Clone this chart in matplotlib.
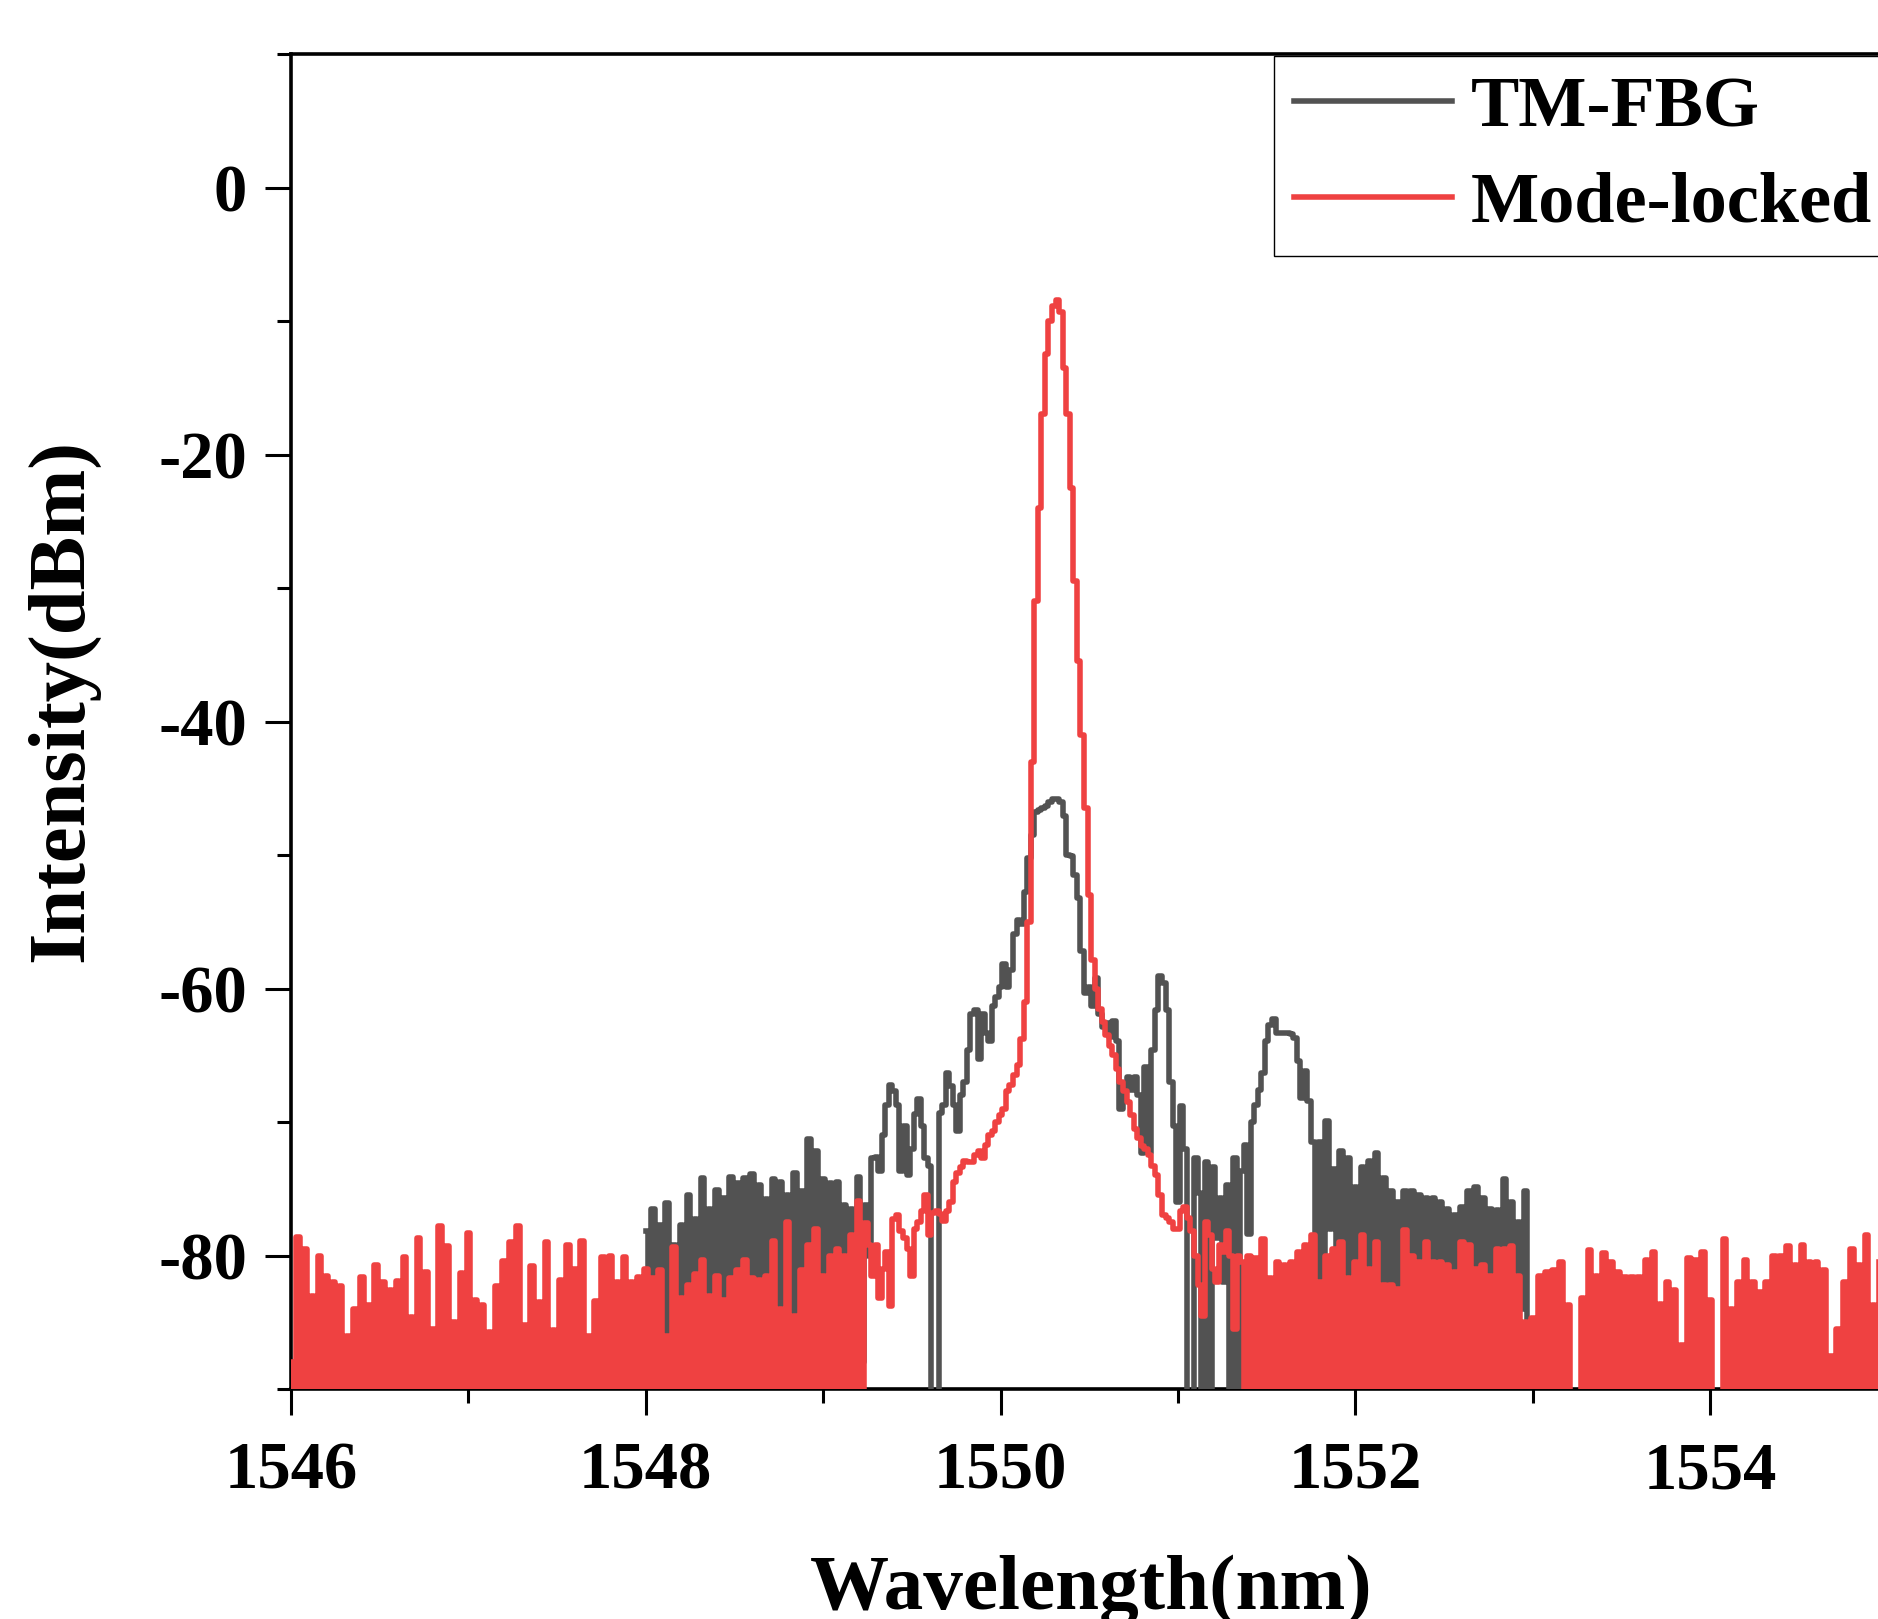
import numpy as np
import matplotlib
matplotlib.use("Agg")
from matplotlib import pyplot as plt
from matplotlib.ticker import MultipleLocator

plt.rcParams['font.family'] = ['Liberation Serif', 'DejaVu Serif']
plt.rcParams['font.weight'] = 'bold'
plt.rcParams['axes.unicode_minus'] = False

# OSA spectra, 0.02 nm sampling; values below -90 dBm are off the bottom of the plot
step = 0.02

# mode-locked output, 1546.00 ... 1555.00 nm
red_start = 1546.0
red_dbm = [
    -88, -95, -78.6, -97, -79.5, -93, -83, -96, -80, -94,
    -81.5, -98, -82, -95, -82.3, -93, -86, -97, -84, -95,
    -81.6, -94, -83.7, -96, -80.7, -93, -82, -98, -82.6, -95,
    -81.9, -97, -80.1, -94, -84.6, -96, -78.7, -93, -81.2, -95,
    -85.5, -98, -77.8, -94, -79.3, -96, -85, -93, -81.3, -97,
    -78.3, -95, -83.3, -94, -83.7, -98, -85.7, -93, -82.3, -96,
    -80.4, -94, -79, -97, -77.8, -95, -85.2, -93, -80.8, -96,
    -83.5, -94, -79, -98, -85.6, -95, -81.8, -93, -79.2, -97,
    -81, -94, -78.9, -96, -86, -95, -83.4, -93, -80.1, -98,
    -80, -94, -82, -96, -80.1, -95, -82, -93, -81.6, -97,
    -81, -95, -81.7, -94, -81.1, -97, -86, -93, -79.4, -96,      # 1548.0
    -83.2, -94, -82.2, -98, -81.4, -95, -80.3, -93, -83, -96,
    -81.5, -94, -83.3, -97, -81.7, -95, -81.1, -93, -80.3, -96,
    -81.7, -94, -81.8, -98, -81.5, -95, -78.9, -93, -84, -96,
    -77.5, -94, -84.5, -97, -81.1, -95, -79.2, -93, -78, -96,
    -81.5, -94, -80, -98, -79.5, -95, -80, -93, -78.5, -96,      # 1549.0
    -75.9, -94, -77.6, -79.2, -81.5, -79.2, -83.2, -81, -79.7, -83.8,
    -77.3, -77, -78.2, -78.7, -79.5, -81.5, -78, -77.5, -76.7, -75.5,
    -78.5, -76.8, -76.7, -76.9, -77.4, -76.7, -76, -74.5, -73.8, -73.4,
    -72.9, -73, -73, -72.5, -72.2, -72.7, -71.7, -71, -70.7, -70,
    -69.5, -69, -67.7, -67.2, -66.5, -65.7, -63.8, -61, -55, -43,  # 1550.0
    -31, -24, -17, -12.5, -10, -8.9, -8.4, -9.3, -13.5, -17,
    -22.5, -29.5, -35.5, -41, -46.5, -53, -57.9, -60, -61.5, -62.5,
    -63.5, -64.3, -65, -66, -67, -67.7, -68.5, -69.5, -70.5, -71.2,
    -71.8, -72, -72.5, -73.3, -74, -75.5, -77, -77.2, -77.5, -78,
    -78, -76.7, -76.4, -77.2, -78.2, -80, -82.2, -84.5, -77.5, -78.5,  # 1551.0
    -81, -82, -79.2, -79.7, -78.2, -80, -85.5, -80, -80.5, -95,
    -80, -97, -80.2, -94, -78.8, -96, -81.7, -93, -80.5, -95,
    -80.7, -98, -80.5, -94, -79.7, -96, -79.2, -93, -78.5, -95,
    -82, -97, -80, -94, -79.5, -96, -79, -93, -81.7, -95,
    -80.5, -98, -78.5, -94, -81, -96, -79, -93, -82.2, -95,      # 1552.0
    -82.2, -97, -82.5, -94, -78.1, -96, -80, -93, -80.5, -95,
    -79, -98, -80.5, -94, -80.5, -96, -80.7, -93, -81.2, -95,
    -79, -97, -79.2, -94, -81, -96, -80.7, -93, -81.5, -95,
    -79.5, -98, -79.5, -94, -79.3, -96, -81.5, -93, -85, -95,
    -84.7, -97, -81.5, -94, -81.2, -96, -81.1, -93, -80.5, -95,  # 1553.0
    -83.7, -98, -92, -94, -83.2, -96, -79.6, -93, -81.5, -95,
    -79.8, -97, -80.5, -94, -81.2, -96, -81.6, -93, -81.6, -95,
    -81.6, -98, -80.3, -94, -79.7, -96, -83.6, -93, -82, -95,
    -82.6, -97, -86.7, -94, -80.2, -96, -80.3, -93, -79.7, -95,
    -83.3, -98, -93, -94, -78.8, -96, -84, -93, -82, -95,        # 1554.0
    -80.3, -97, -82, -94, -82.7, -96, -82, -93, -80, -95,
    -80, -98, -79.3, -94, -80.7, -96, -79.2, -93, -80.5, -95,
    -80.5, -97, -81.1, -94, -87.5, -96, -85.5, -93, -82, -95,
    -79.5, -98, -80.7, -94, -78.5, -96, -83.7, -93, -80.5, -95,
    -81,
]

# TM-FBG reflection, 1548.00 ... 1553.02 nm
gray_start = 1548.0
gray_dbm = [
    -78.2, -95, -76.5, -93, -77.7, -96, -76.1, -94, -79.2, -97,
    -77.7, -93, -75.5, -95, -77.3, -96, -74.2, -94, -76.5, -97,
    -75.1, -95, -75.7, -93, -74.1, -96, -74.6, -94, -74.2, -97,
    -73.9, -95, -74.7, -93, -75.8, -96, -74.3, -94, -74.5, -97,
    -75.5, -95, -73.8, -93, -75.2, -96, -71.3, -94, -72.2, -97,
    -74.3, -95, -74.6, -93, -74.5, -96, -76.2, -94, -76.5, -97,  # 1549.0
    -74.1, -88, -76.2, -80, -72.7, -72.6, -73.7, -71, -68.7, -67.2,
    -67.7, -68.7, -73.7, -70.3, -74, -72, -69.4, -68.3, -70.3, -72.7,
    -73.3, -95, -95, -69.3, -68.7, -66.3, -67.3, -68.7, -70.7, -68,
    -67, -64.6, -61.9, -61.6, -65.3, -61.9, -63.3, -63.9, -61.3, -60.6,
    -59.9, -58.2, -59.9, -58.6, -55.9, -54.9, -55.2, -52.8, -50.2, -48.5,  # 1550.0
    -46.8, -46.6, -46.5, -46.3, -46, -45.8, -45.8, -46, -47.1, -50,
    -50.1, -51.5, -53.2, -57.2, -60.3, -59.9, -61.3, -59.2, -61.9, -62.9,
    -62.6, -63.6, -62.4, -63.9, -69, -67.6, -66.6, -67.6, -66.6, -68,
    -72.3, -65.9, -72.3, -64.6, -61.6, -59.1, -59.6, -61.6, -67, -70.3,
    -76, -68.8, -72, -95, -95, -72.7, -75.3, -95, -73, -95,      # 1551.0
    -73.4, -78.7, -75.7, -82, -74.7, -95, -72.7, -95, -73.7, -71.7,
    -78.4, -70, -68.7, -67.6, -66.3, -63.9, -62.7, -62.3, -63.3, -63.3,
    -63.3, -63.3, -63.4, -63.7, -65.4, -68.2, -66.2, -68.4, -71.5, -82,
    -71.5, -84, -69.9, -78, -73.5, -85, -72.2, -83, -72.7, -86,
    -74.9, -84, -73.4, -92, -72.9, -81, -72.3, -84, -74.2, -86,  # 1552.0
    -75.2, -83, -76, -85, -75.2, -82, -75.2, -87, -75.5, -84,
    -75.7, -84.7, -75.7, -83.5, -76, -86, -76.5, -82, -77, -85,
    -76.4, -86, -75.2, -83, -74.9, -83.5, -75.7, -87, -76.5, -84,
    -76.6, -83.5, -74.3, -85, -76, -88, -77.5, -84, -75.2, -86,
    -92, -95,
]

red_wl = red_start + step * np.arange(len(red_dbm))
gray_wl = gray_start + step * np.arange(len(gray_dbm))

fig = plt.figure(figsize=(18.78, 16.19), dpi=100)
# the plot box runs past the right edge of the picture, as in the original figure
ax = fig.add_axes([0.15495, 0.14206, 0.85016, 0.82458])

ax.plot(gray_wl, gray_dbm, color='#525252', linewidth=4.0, drawstyle='steps-mid',
        label='TM-FBG', zorder=3)
ax.plot(red_wl, red_dbm, color='#EF4141', linewidth=4.0, drawstyle='steps-mid',
        label='Mode-locked', zorder=4)

ax.set_xlim(1546, 1555)
ax.set_ylim(-90, 10)
ax.xaxis.set_major_locator(MultipleLocator(2))
ax.xaxis.set_minor_locator(MultipleLocator(1))
ax.yaxis.set_major_locator(MultipleLocator(20))
ax.yaxis.set_minor_locator(MultipleLocator(10))

for s in ax.spines.values():
    s.set_linewidth(2.6)
ax.tick_params(which='both', direction='out', top=False, right=False, width=2.2)
ax.tick_params(which='major', length=18.5, labelsize=48)
ax.tick_params(which='minor', length=10)
ax.tick_params(axis='x', which='major', pad=19)
ax.tick_params(axis='y', which='major', pad=13)

fig.text(1091 / 1878, 1 - 1555 / 1619, 'Wavelength(nm)', fontsize=57, fontweight='bold',
         ha='center', va='top')
fig.text(63 / 1878, 1 - 700 / 1619, 'Intensity(dBm)', fontsize=58, fontweight='bold',
         rotation=90, ha='center', va='center')

leg = ax.legend(loc='upper left', bbox_to_anchor=(1274 / 1878, 1 - 56 / 1619),
                bbox_transform=fig.transFigure, borderaxespad=0, fontsize=52,
                handlelength=2.2, handletextpad=0.25, borderpad=0.27,
                labelspacing=0.42, fancybox=False, framealpha=1, edgecolor='black')
leg.get_frame().set_linewidth(1.0)

fig.savefig('out.png', dpi=100)
